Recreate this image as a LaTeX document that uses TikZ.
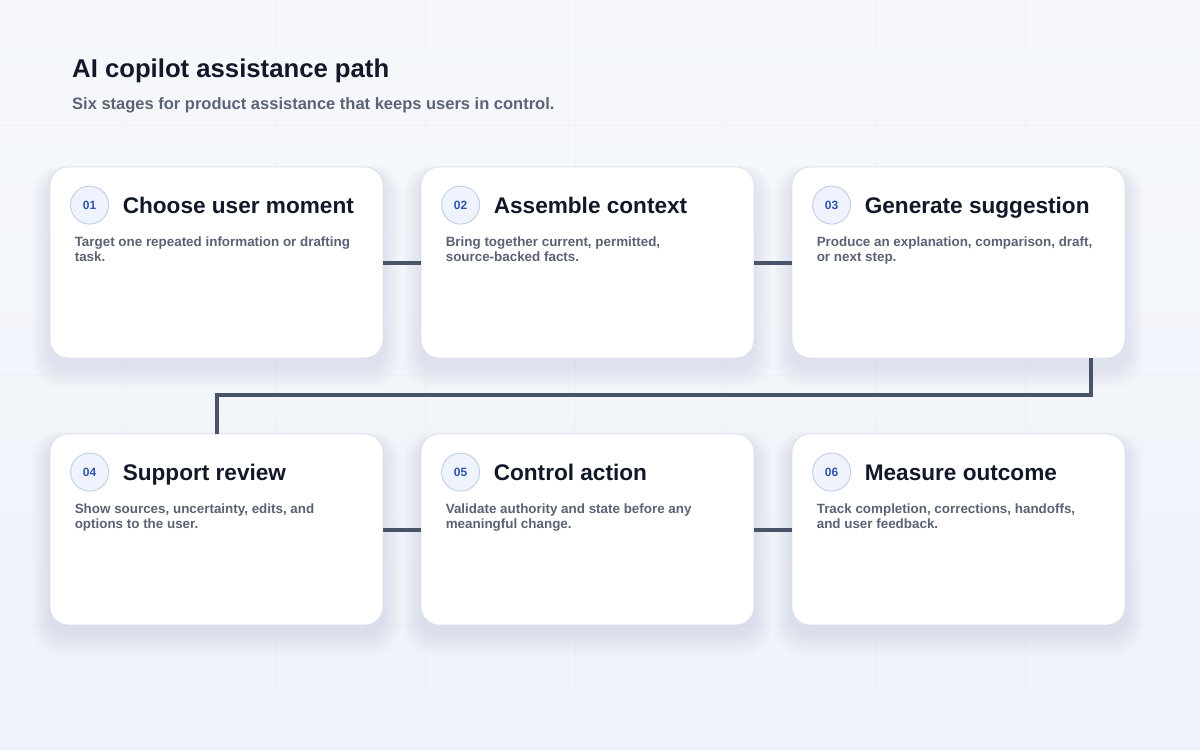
\documentclass[tikz,border=0pt]{standalone}
\usepackage{fontspec}
\setmainfont{Liberation Sans}
\usetikzlibrary{calc}
\definecolor{bgA}{HTML}{F6F8FB}
\definecolor{bgB}{HTML}{EEF2FA}
\definecolor{titlec}{HTML}{111827}
\definecolor{subc}{HTML}{5B6477}
\definecolor{descc}{HTML}{5A6274}
\definecolor{cardline}{HTML}{D9DFEA}
\definecolor{badgefill}{HTML}{EEF3FD}
\definecolor{badgeline}{HTML}{BFCDE6}
\definecolor{badgetext}{HTML}{2F56A6}
\definecolor{connc}{HTML}{4A5468}
\definecolor{shadowc}{HTML}{3A4A76}
\definecolor{gridc}{HTML}{E6EAF2}
\tikzset{
  card/.style={draw=cardline, line width=0.8pt, fill=white, rounded corners=18pt,
    minimum width=333pt, minimum height=191pt, inner sep=0pt},
  badge/.style={circle, draw=badgeline, line width=0.9pt, fill=badgefill,
    minimum size=38pt, inner sep=0pt, text=badgetext, font=\bfseries\fontsize{12}{14}\selectfont},
  ctitle/.style={anchor=base west, inner sep=0pt, text=titlec, font=\bfseries\fontsize{22.6}{26}\selectfont},
  cdesc/.style={anchor=north west, inner sep=0pt, text=descc, align=left,
    font=\bfseries\fontsize{13.4}{15.2}\selectfont},
  conn/.style={draw=connc, line width=4pt},
}
\begin{document}
\begin{tikzpicture}[x=1pt,y=-1pt]
\useasboundingbox (0,0) rectangle (1200,750);
\shade[top color=bgA, bottom color=bgB] (0,0) rectangle (1200,750);
% faint grid
\foreach \gx in {125,275,425,575,725,875,1025}{\draw[gridc, line width=0.5pt, opacity=0.35] (\gx,0) -- (\gx,750);}
\foreach \gy in {125,375,625}{\draw[gridc, line width=0.5pt, opacity=0.35] (0,\gy) -- (1200,\gy);}
% title
\node[anchor=base west, inner sep=0pt, text=titlec, font=\bfseries\fontsize{25.7}{30}\selectfont] (title) at (72,77) {AI copilot assistance path};
\node[anchor=base west, inner sep=0pt, text=subc, font=\bfseries\fontsize{16.5}{19}\selectfont] (sub) at (72,109) {Six stages for product assistance that keeps users in control.};
% shadows
\foreach \cx/\cy in {216.5/262.5, 587.5/262.5, 958.5/262.5, 216.5/529.5, 587.5/529.5, 958.5/529.5}{
  \foreach \i in {1,...,10}{
    \fill[shadowc, opacity=0.009, rounded corners=18pt+\i pt]
      (\cx-166.5-\i*1.8, \cy-95.5-\i*1.0+8) rectangle (\cx+166.5+\i*1.8, \cy+95.5+\i*2.2+8);
  }
}
% cards
\node[card] (c1) at (216.5,262.5) {};
\node[card] (c2) at (587.5,262.5) {};
\node[card] (c3) at (958.5,262.5) {};
\node[card] (c4) at (216.5,529.5) {};
\node[card] (c5) at (587.5,529.5) {};
\node[card] (c6) at (958.5,529.5) {};
\draw[conn] (c1.east) -- (c2.west);
\draw[conn] (c2.east) -- (c3.west);
\draw[conn] ([xshift=-34pt]c3.south east) -- ++(0,37) coordinate (elb) -| (c4.north);
\draw[conn] (c4.east) -- (c5.west);
\draw[conn] (c5.east) -- (c6.west);
% card contents
\foreach \c/\n/\t/\d in {
  c1/01/Choose user moment/{Target one repeated information or drafting\\task.},
  c2/02/Assemble context/{Bring together current, permitted,\\source-backed facts.},
  c3/03/Generate suggestion/{Produce an explanation, comparison, draft,\\or next step.},
  c4/04/Support review/{Show sources, uncertainty, edits, and\\options to the user.},
  c5/05/Control action/{Validate authority and state before any\\meaningful change.},
  c6/06/Measure outcome/{Track completion, corrections, handoffs,\\and user feedback.}}{
  \node[badge] (\c b) at ($(\c.north west)+(40,38.5)$) {\n};
  \node[ctitle] (\c t) at ($(\c.north west)+(73,46.5)$) {\t};
  \node[cdesc] (\c d) at ($(\c.north west)+(25,70)$) {\d};
}
\end{tikzpicture}
\end{document}
